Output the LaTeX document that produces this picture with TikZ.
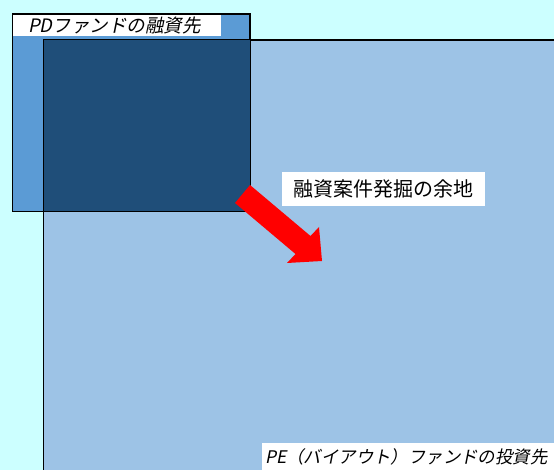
\documentclass[tikz,border=0pt]{standalone}
\usepackage{fontspec}
\newfontfamily\jp{Noto Sans CJK JP}
\newfontfamily\jpit[FakeSlant=0.2]{Noto Sans CJK JP}
\definecolor{bgc}{HTML}{CCFFFF}
\definecolor{pec}{HTML}{9DC3E6}
\definecolor{pdc}{HTML}{5B9BD5}
\definecolor{ovc}{HTML}{1F4E79}
\definecolor{arrc}{HTML}{FF0000}
\tikzset{
  region/.style={draw=black, line width=1pt, anchor=north west, inner sep=0pt},
  lbl/.style={fill=white, inner ysep=0pt, text=black},
}
\begin{document}
\begin{tikzpicture}[x=1pt,y=-1pt]
\useasboundingbox (0,0) rectangle (554,470);
\clip (0,0) rectangle (554,470);
\fill[bgc] (0,0) rectangle (554,470);
% PE region
\node[region, fill=pec, minimum width=530pt, minimum height=450pt] (pe) at (43,40) {};
% PD region
\node[region, fill=pdc, minimum width=237pt, minimum height=197pt] (pd) at (12,14) {};
% overlap
\fill[ovc] (pe.north west) rectangle (pd.south east);
\draw[line width=1pt] (pd.north west) rectangle (pd.south east);
\draw[line width=1pt] (pe.south west) -- (pe.north west) -- (pe.north east);
% labels
\node[lbl, anchor=north west, minimum height=21pt, inner xsep=15pt, text width=178pt, align=left,
      font=\jpit\fontsize{18.5}{18.5}\selectfont] (pdl) at (13,15) {PDファンドの融資先};
\node[lbl, minimum width=203pt, minimum height=34pt,
      font=\jp\fontsize{20}{20}\selectfont] (mid) at (383.5,189) {融資案件発掘の余地};
\node[lbl, anchor=north west, minimum height=27pt, inner xsep=3pt, text width=286pt, align=left,
      font=\jpit\fontsize{17.4}{17.4}\selectfont] (pel) at (262,443) {PE（バイアウト）ファンドの投資先};
% red arrow
\coordinate (a1) at (250,185);
\coordinate (a2) at (310.5,236);
\coordinate (a3) at (319,227);
\coordinate (a4) at (322,261);
\coordinate (a5) at (287,263);
\coordinate (a6) at (295.5,254);
\coordinate (a7) at (235,203);
\fill[arrc] (a1) -- (a2) -- (a3) -- (a4) -- (a5) -- (a6) -- (a7) -- cycle;
\end{tikzpicture}
\end{document}
